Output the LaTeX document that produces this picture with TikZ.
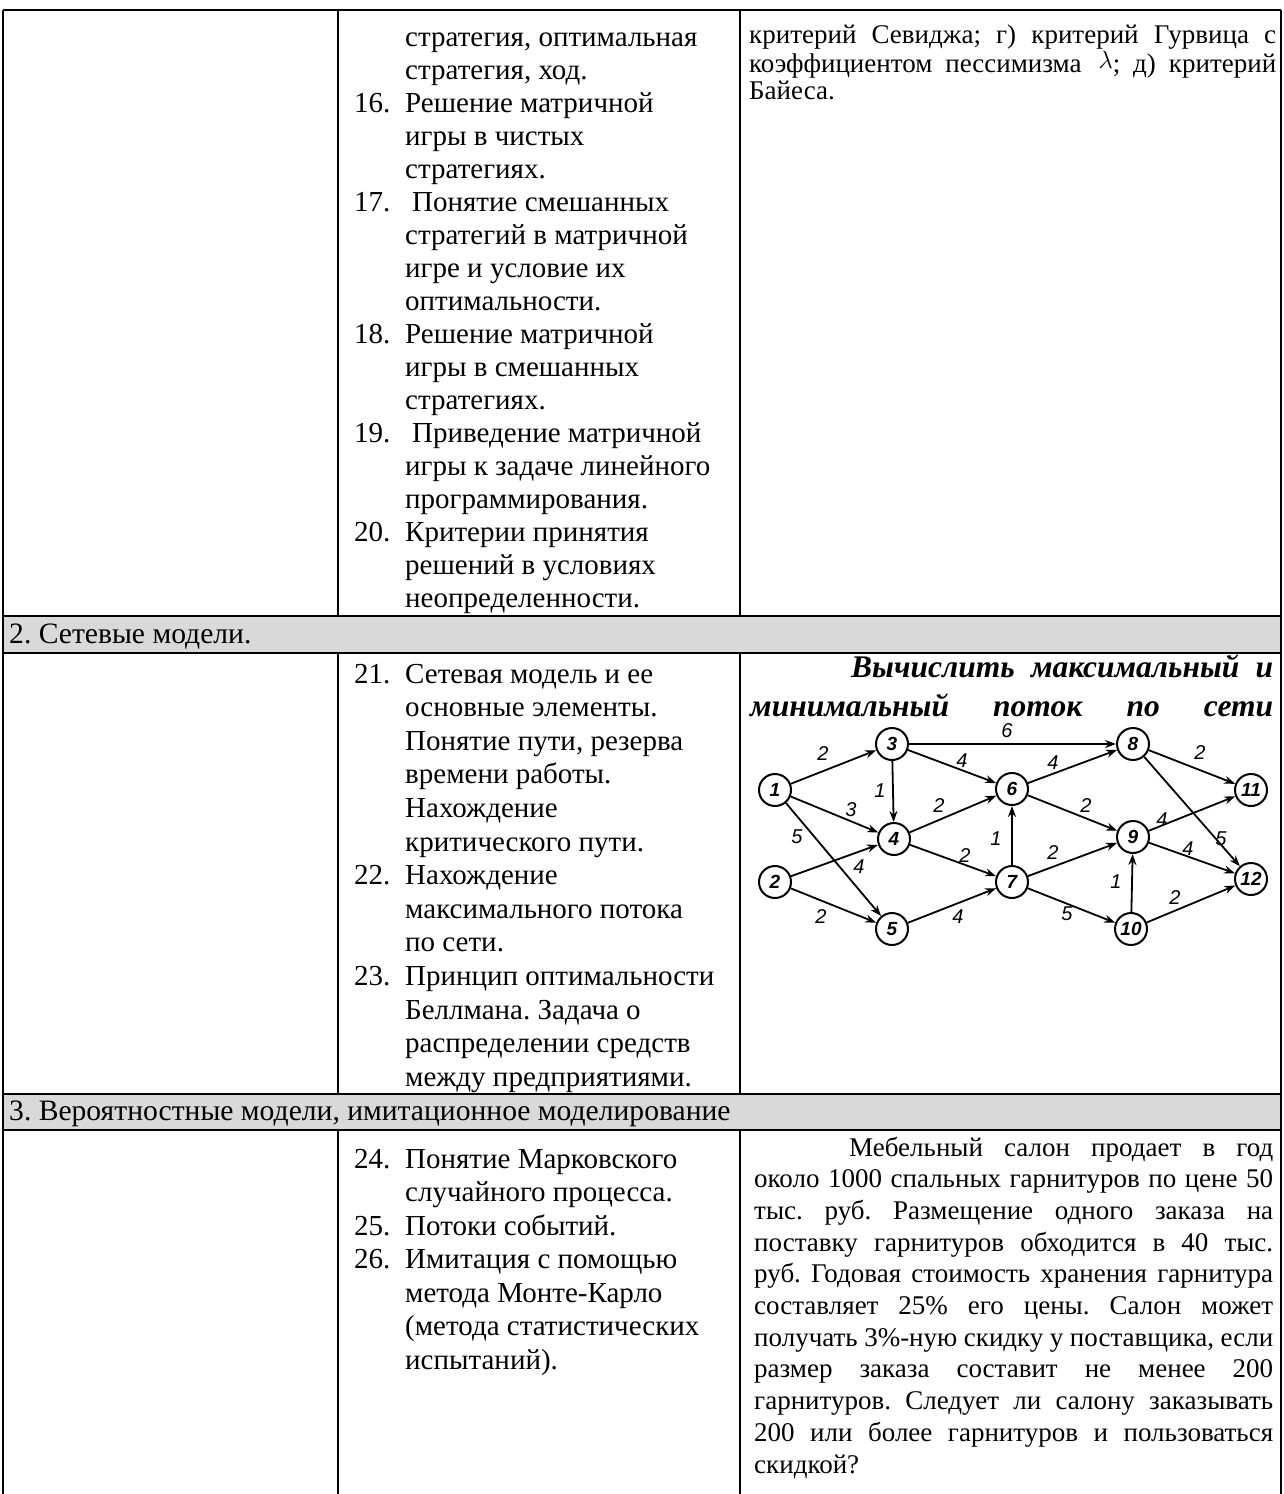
\documentclass[tikz,border=0pt]{standalone}
\usepackage{fontspec}
\setmainfont{Liberation Serif}
\newfontfamily\handfont{Liberation Sans}
\usetikzlibrary{arrows.meta}
\definecolor{rowgray}{HTML}{D9D9D9}
\newcommand\ns{\spaceskip=0pt\xspaceskip=0pt\frenchspacing}
\newcommand\jl[2]{\leavevmode\hbox to #1{\frenchspacing\spaceskip=0.25em plus 1fil minus 0.05em\relax #2}}
\begin{document}
\begin{tikzpicture}[x=1pt,y=-1pt,
  hline/.style={line width=2.6pt},
  vline/.style={line width=1.4pt},
  midtxt/.style={inner sep=0pt,anchor=base west,text width=335pt,font=\fontsize{29}{#1}\selectfont},
  num/.style={inner sep=0pt,anchor=base west,font=\fontsize{29}{33}\selectfont},
  sect/.style={inner sep=0pt,anchor=base west,font=\fontsize{29.6}{33}\selectfont},
  rtxt/.style={inner sep=0pt,anchor=base west,text width=#1,font=\fontsize{27}{31.7}\selectfont},
  ttl/.style={inner sep=0pt,anchor=base west,text width=523pt,font=\bfseries\itshape\fontsize{31.5}{39}\selectfont},
  vtx/.style={circle,draw,line width=2pt,minimum size=32pt,inner sep=0pt,font=\handfont\bfseries\itshape\fontsize{19}{19}\selectfont},
  arc/.style={line width=1.8pt,-{Stealth[length=11pt,width=8pt]}},
  wt/.style={inner sep=0pt,font=\handfont\itshape\fontsize{20}{20}\selectfont}
]
\useasboundingbox (0,0) rectangle (1283,1494);
% gray section rows
\fill[rowgray] (3,616) rectangle (1281,653);
\fill[rowgray] (3,1094) rectangle (1281,1130);
% table rules
\draw[hline] (3,10) -- (1281,10);
\draw[hline] (3,616) -- (1281,616);
\draw[hline] (3,653) -- (1281,653);
\draw[hline] (3,1094) -- (1281,1094);
\draw[hline] (3,1130) -- (1281,1130);
\draw[vline] (3,10) -- (3,1494);
\draw[vline] (1281,10) -- (1281,1494);
\draw[vline] (338,10) -- (338,616);
\draw[vline] (740,10) -- (740,616);
\draw[vline] (338,653) -- (338,1094);
\draw[vline] (740,653) -- (740,1094);
\draw[vline] (338,1130) -- (338,1494);
\draw[vline] (740,1130) -- (740,1494);

% ---------- row 1 ----------
\node[midtxt=33] (m1) at (405,46) {\ns стратегия, оптимальная\\
стратегия, ход.\\
Решение матричной\\
игры в чистых\\
стратегиях.\\
\hspace*{7pt}Понятие смешанных\\
стратегий в матричной\\
игре и условие их\\
оптимальности.\\
Решение матричной\\
игры в смешанных\\
стратегиях.\\
\hspace*{7pt}Приведение матричной\\
игры к задаче линейного\\
программирования.\\
Критерии принятия\\
решений в условиях\\
неопределенности.};
\node[num] (k16) at (354,{46+33*2}) {16.};
\node[num] (k17) at (354,{46+33*5}) {17.};
\node[num] (k18) at (354,{46+33*9}) {18.};
\node[num] (k19) at (354,{46+33*12}) {19.};
\node[num] (k20) at (354,{46+33*15}) {20.};

\node[rtxt=527pt] (r1a) at (749,43) {\jl{527pt}{критерий Севиджа; г) критерий Гурвица с}};
\node[rtxt=527pt] (r1b) at (749,72) {\jl{527pt}{коэффициентом пессимизма \hspace{4pt}\raisebox{4pt}{\fontsize{29}{29}\selectfont$\lambda$}; д) критерий}};
\node[rtxt=527pt] (r1c) at (749,99) {\ns Байеса.};

% ---------- section 2 ----------
\node[sect] (s2) at (9,643) {\ns 2. Сетевые модели.};

\node[midtxt=33.6] (m2) at (405,683) {\ns Сетевая модель и ее\\
основные элементы.\\
Понятие пути, резерва\\
времени работы.\\
Нахождение\\
критического пути.\\
Нахождение\\
максимального потока\\
по сети.\\
Принцип оптимальности\\
Беллмана. Задача о\\
распределении средств\\
между предприятиями.};
\node[num] (k21) at (354,683) {21.};
\node[num] (k22) at (354,{683+33.6*6}) {22.};
\node[num] (k23) at (354,{683+33.6*9}) {23.};

\node[ttl] (t1a) at (851,677) {\jl{422pt}{Вычислить максимальный и}};
\node[ttl] (t1b) at (750,716) {\jl{523pt}{минимальный поток по сети}};

% network
\node[vtx] (n1) at (775,790) {1};
\node[vtx] (n2) at (775,882) {2};
\node[vtx] (n3) at (892,744) {3};
\node[vtx] (n4) at (894,839) {4};
\node[vtx] (n5) at (892,929) {5};
\node[vtx] (n6) at (1012,789) {6};
\node[vtx] (n7) at (1012,882) {7};
\node[vtx] (n8) at (1133,744) {8};
\node[vtx] (n9) at (1133,837) {9};
\node[vtx] (n10) at (1131,929) {10};
\node[vtx] (n11) at (1251,790) {11};
\node[vtx] (n12) at (1251,879) {12};

\draw[arc] (n1) -- (n3);
\draw[arc] (n1) -- (n4);
\draw[arc] (n1) -- (n5);
\draw[arc] (n2) -- (n4);
\draw[arc] (n2) -- (n5);
\draw[arc] (n3) -- (n8);
\draw[arc] (n3) -- (n6);
\draw[arc] (n3) -- (n4);
\draw[arc] (n4) -- (n6);
\draw[arc] (n4) -- (n7);
\draw[arc] (n5) -- (n7);
\draw[arc] (n6) -- (n8);
\draw[arc] (n6) -- (n9);
\draw[arc] (n7) -- (n6);
\draw[arc] (n7) -- (n9);
\draw[arc] (n7) -- (n10);
\draw[arc] (n8) -- (n11);
\draw[arc] (n8) -- (n12);
\draw[arc] (n9) -- (n11);
\draw[arc] (n9) -- (n12);
\draw[arc] (n10) -- (n9);
\draw[arc] (n10) -- (n12);

\node[wt] (w13) at (823,754) {2};
\node[wt] (w38) at (1007,731) {6};
\node[wt] (w36) at (962,761) {4};
\node[wt] (w34) at (880,791) {1};
\node[wt] (w14) at (851,810) {3};
\node[wt] (w15) at (797,837) {5};
\node[wt] (w46) at (939,806) {2};
\node[wt] (w68) at (1053,763) {4};
\node[wt] (w811) at (1200,753) {2};
\node[wt] (w69) at (1086,806) {2};
\node[wt] (w911) at (1162,820) {4};
\node[wt] (w812) at (1221,839) {5};
\node[wt] (w912) at (1188,849) {4};
\node[wt] (w76) at (996,839) {1};
\node[wt] (w47) at (965,856) {2};
\node[wt] (w24) at (859,867) {4};
\node[wt] (w79) at (1053,853) {2};
\node[wt] (w109) at (1116,882) {1};
\node[wt] (w1012) at (1175,898) {2};
\node[wt] (w25) at (821,917) {2};
\node[wt] (w57) at (958,917) {4};
\node[wt] (w710) at (1067,914) {5};

% ---------- section 3 ----------
\node[sect] (s3) at (9,1120) {\ns 3. Вероятностные модели, имитационное моделирование};

\node[midtxt=33.5] (m3) at (405,1168) {\ns Понятие Марковского\\
случайного процесса.\\
Потоки событий.\\
Имитация с помощью\\
метода Монте-Карло\\
(метода статистических\\
испытаний).};
\node[num] (k24) at (354,1168) {24.};
\node[num] (k25) at (354,{1168+33.5*2}) {25.};
\node[num] (k26) at (354,{1168+33.5*3}) {26.};

\node[rtxt=519pt] (r3a) at (849,1156) {\jl{424pt}{Мебельный салон продает в год}};
\node[rtxt=519pt] (r3b) at (754,{1156+31.7*1}) {\jl{519pt}{около 1000 спальных гарнитуров по цене 50}};
\node[rtxt=519pt] (r3c) at (754,{1156+31.7*2}) {\jl{519pt}{тыс. руб. Размещение одного заказа на}};
\node[rtxt=519pt] (r3d) at (754,{1156+31.7*3}) {\jl{519pt}{поставку гарнитуров обходится в 40 тыс.}};
\node[rtxt=519pt] (r3e) at (754,{1156+31.7*4}) {\jl{519pt}{руб. Годовая стоимость хранения гарнитура}};
\node[rtxt=519pt] (r3f) at (754,{1156+31.7*5}) {\jl{519pt}{составляет 25\% его цены. Салон может}};
\node[rtxt=519pt] (r3g) at (754,{1156+31.7*6}) {\jl{519pt}{получать 3\%-ную скидку у поставщика, если}};
\node[rtxt=519pt] (r3h) at (754,{1156+31.7*7}) {\jl{519pt}{размер заказа составит не менее 200}};
\node[rtxt=519pt] (r3i) at (754,{1156+31.7*8}) {\jl{519pt}{гарнитуров. Следует ли салону заказывать}};
\node[rtxt=519pt] (r3j) at (754,{1156+31.7*9}) {\jl{519pt}{200 или более гарнитуров и пользоваться}};
\node[rtxt=519pt] (r3k) at (754,{1156+31.7*10}) {\ns скидкой?};
\end{tikzpicture}
\end{document}
